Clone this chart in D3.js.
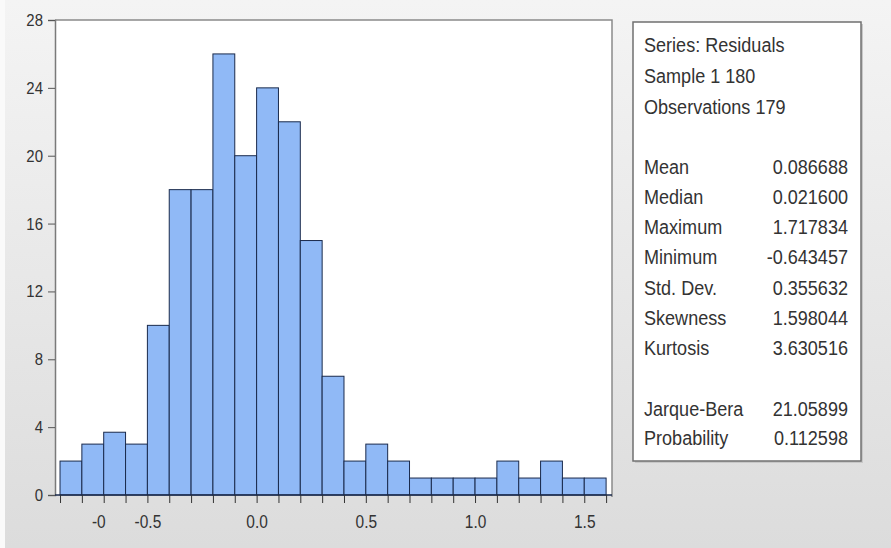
<!DOCTYPE html>
<html><head><meta charset="utf-8">
<script src="https://cdn.jsdelivr.net/npm/d3@7"></script>
<style>
html,body{margin:0;padding:0;background:#e8e8e8;}
svg{display:block;}
</style></head>
<body>
<svg id="chart" width="891" height="548"></svg>
<script>
// ---- data ----
const binLow = [-0.9,-0.8,-0.7,-0.6,-0.5,-0.4,-0.3,-0.2,-0.1,0.0,0.1,0.2,0.3,0.4,0.5,0.6,0.7,0.8,0.9,1.0,1.1,1.2,1.3,1.4,1.5];
const binWidth = 0.1;
const counts = [2,3,3.7,3,10,18,18,26,20,24,22,15,7,2,3,2,1,1,1,1,2,1,2,1,1];
const yTicks = [0,4,8,12,16,20,24,28];
const xLabelValues = [-0.725,-0.5,0.0,0.5,1.0,1.5];
const xLabelTexts = ["-0","-0.5","0.0","0.5","1.0","1.5"];
const statLabels = ["Mean","Median","Maximum","Minimum","Std. Dev.","Skewness","Kurtosis"];
const statValues = ["0.086688","0.021600","1.717834","-0.643457","0.355632","1.598044","3.630516"];
const testLabels = ["Jarque-Bera","Probability"];
const testValues = ["21.05899","0.112598"];
const headerLines = ["Series: Residuals","Sample 1 180","Observations 179"];

const FONT = "'Liberation Sans',Arial,sans-serif";
const svg = d3.select("#chart");

// background gradient
const defs = svg.append("defs");
const g1 = defs.append("linearGradient").attr("id","bg").attr("x1",0).attr("y1",0).attr("x2",0).attr("y2",1);
g1.append("stop").attr("offset","0%").attr("stop-color","#f4f4f4");
g1.append("stop").attr("offset","100%").attr("stop-color","#dcdcdc");
svg.append("rect").attr("width",891).attr("height",548).attr("fill","url(#bg)");
svg.append("rect").attr("width",5).attr("height",548).attr("fill","#fafafa");

const L = 55, R = 612, T = 20, B = 495;
const x = d3.scaleLinear().domain([-0.923, 1.627]).range([L, R]);
const y = d3.scaleLinear().domain([0, 28]).range([B, T]);

// plot area
svg.append("rect").attr("x",L).attr("y",T).attr("width",R-L).attr("height",B-T)
  .attr("fill","#ffffff");

// bars
svg.append("g").selectAll("rect").data(counts).join("rect")
  .attr("x",(d,i)=>x(binLow[i]))
  .attr("y",d=>y(d))
  .attr("width",(d,i)=>x(binLow[i]+binWidth)-x(binLow[i]))
  .attr("height",d=>y(0)-y(d))
  .attr("fill","#90b9f6")
  .attr("stroke","#1a2a4c")
  .attr("stroke-width",1);

// frame top & right
svg.append("path").attr("d",`M${L},${T}H${R}V${B+2}`).attr("fill","none")
  .attr("stroke","#8a8a8a").attr("stroke-width",1.5);

// y axis
const yAxis = svg.append("g").attr("transform",`translate(${L},0)`)
  .call(d3.axisLeft(y).tickValues(yTicks).tickSize(7).tickPadding(0));
yAxis.select(".domain").attr("stroke","#7a7a7a").attr("stroke-width",1.5);
yAxis.selectAll(".tick line").attr("stroke","#555");
yAxis.selectAll("text").attr("x",0)
  .attr("transform","translate(-12,0) scale(0.88,1)")
  .attr("font-family",FONT).attr("font-size",17).attr("fill","#333");

// x axis ticks at bin edges
const edges = binLow.concat([binLow[binLow.length-1]+binWidth]);
const xAxis = svg.append("g").attr("transform",`translate(0,${B})`)
  .call(d3.axisBottom(x).tickValues(edges).tickSize(8).tickFormat(""));
xAxis.select(".domain").attr("stroke","#1a2a4c").attr("stroke-width",1.5).attr("d",`M${L},0H${R}`);
xAxis.selectAll(".tick line").attr("stroke","#333");

// x labels
const xLab = svg.append("g").attr("transform",`translate(0,${B})`)
  .call(d3.axisBottom(x).tickValues(xLabelValues).tickSize(0).tickPadding(20)
    .tickFormat((d,i)=>xLabelTexts[i]));
xLab.select(".domain").remove();
xLab.selectAll("text").attr("transform","scale(0.86,1)")
  .attr("font-family",FONT).attr("font-size",18).attr("fill","#333");

// stats box
const bx = 633, by = 22, bw = 228, bh = 439;
svg.append("rect").attr("x",bx+2).attr("y",by+2).attr("width",bw).attr("height",bh).attr("fill","#c8c8c8");
svg.append("rect").attr("x",bx).attr("y",by).attr("width",bw).attr("height",bh)
  .attr("fill","#ffffff").attr("stroke","#707070").attr("stroke-width",1.5);

const tx = 644, vx = 848, SX = 0.86;
const box = svg.append("g").attr("font-family",FONT).attr("font-size",21).attr("fill","#333");
function rows(cls, data, ys, xpos, anchor){
  box.selectAll("text."+cls).data(data).join("text").attr("class",cls)
    .attr("transform",(d,i)=>`translate(${xpos},${ys[i]}) scale(${SX},1)`)
    .attr("dy","0.35em").attr("text-anchor",anchor).text(d=>d);
}
rows("h", headerLines, [45,76,107], tx, "start");
const statY = [167,197,227,257,288,318,348];
rows("sl", statLabels, statY, tx, "start");
rows("sv", statValues, statY, vx, "end");
const testY = [409,438];
rows("tl", testLabels, testY, tx, "start");
rows("tv", testValues, testY, vx, "end");
</script>
</body></html>
